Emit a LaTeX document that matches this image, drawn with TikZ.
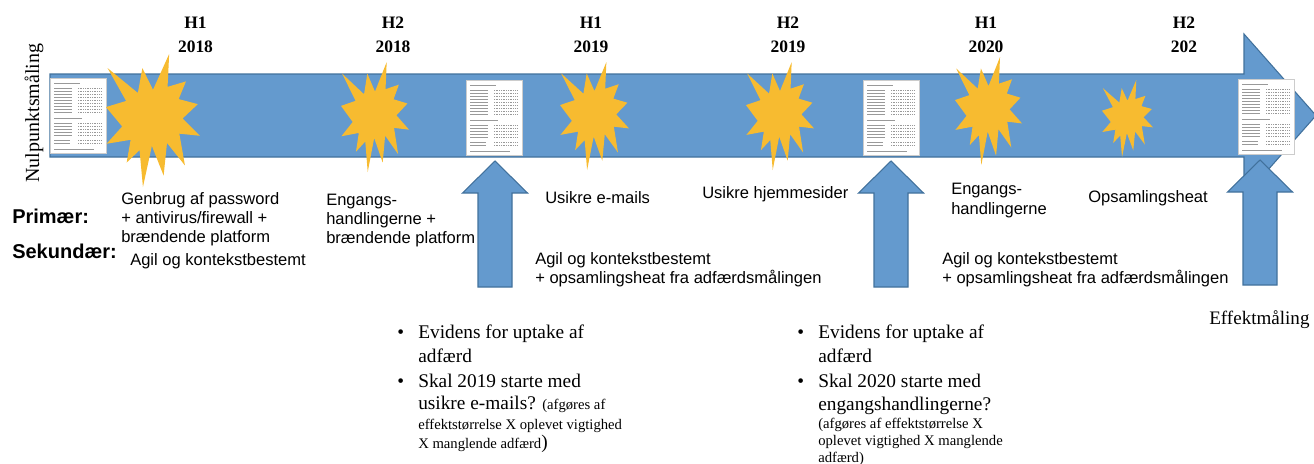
\documentclass[tikz,border=0pt]{standalone}
\usepackage{fontspec}
\setmainfont{Liberation Serif}
\setsansfont{Liberation Sans}

\definecolor{arrowblue}{RGB}{100,154,206}
\definecolor{arrowedge}{RGB}{65,113,156}
\definecolor{sunyellow}{RGB}{247,187,48}

\begin{document}
\begin{tikzpicture}[x=0.75pt, y=-0.75pt]
    \tikzstyle{block}=[fill=arrowblue, draw=arrowedge, line width=0.8pt, line join=miter]
    \tikzstyle{sun}=[fill=sunyellow]
    \tikzstyle{page}=[fill=white, draw=black!20, line width=0.4pt, inner sep=0pt, anchor=north west,
                      minimum width=42pt, minimum height=56.25pt]
    \tikzstyle{ink}=[draw=black!40, line width=0.3pt]
    \tikzstyle{lbl}=[inner sep=0pt, anchor=base west, font=\sffamily\fontsize{12.4}{14}\selectfont]
    \tikzstyle{head}=[inner sep=0pt, anchor=base west, font=\sffamily\bfseries\fontsize{15}{18}\selectfont]
    \tikzstyle{yr}=[inner sep=0pt, anchor=base, font=\bfseries\fontsize{13.1}{16}\selectfont]
    \tikzstyle{note}=[inner sep=0pt, anchor=base west, font=\fontsize{14.5}{17}\selectfont]
    \tikzstyle{fine}=[inner sep=0pt, anchor=base west, font=\fontsize{11}{13}\selectfont]

    \useasboundingbox (0,0) rectangle (1314,464);

    % the timeline arrow
    \draw[block] (50,74) -- (1244,74) -- (1244,34) -- (1316,115.5) -- (1244,197)
        -- (1244,157) -- (50,157) -- cycle;

    % questionnaire pages on the timeline
    \foreach \name/\px/\py in {p1/50/78, p2/466/80, p3/863/80, p4/1238/79} {
        \node[page] (\name) at (\px,\py) {};
        \begin{scope}[shift={(\name.north west)}]
            \draw[ink] (4,5) -- (30,5);
            \foreach \ry in {10,13,...,34} {
                \draw[ink] (4,\ry) -- (22,\ry);
                \draw[ink, densely dotted] (28,\ry) -- (52,\ry);
            }
            \draw[ink] (4,40) -- (32,40);
            \foreach \ry in {45,48,...,57} {
                \draw[ink] (4,\ry) -- (22,\ry);
                \draw[ink, densely dotted] (28,\ry) -- (52,\ry);
            }
            \foreach \ry in {62,65} {
                \draw[ink] (4,\ry) -- (20,\ry);
                \draw[ink, densely dotted] (28,\ry) -- (52,\ry);
            }
            \draw[ink] (4,71) -- (44,71);
        \end{scope}
    }

    % explosions, one per half year
    \foreach \sx/\sy/\sw/\sh in {106/54/94/133, 341/62/68/110, 560/62/69/108,
                                 746/62/68/108, 955/57/67/108, 1102/80/51/77} {
        \fill[sun, shift={(\sx,\sy)}, xscale=\sw, yscale=\sh]
            (0.500,0.269) -- (0.672,0.000) -- (0.655,0.247) -- (0.851,0.206)
            -- (0.773,0.339) -- (0.977,0.377) -- (0.815,0.485) -- (1.000,0.615)
            -- (0.780,0.599) -- (0.840,0.838) -- (0.649,0.669) -- (0.613,0.914)
            -- (0.488,0.691) -- (0.393,1.000) -- (0.357,0.723) -- (0.220,0.816)
            -- (0.262,0.645) -- (0.006,0.675) -- (0.172,0.545) -- (0.000,0.399)
            -- (0.214,0.353) -- (0.017,0.106) -- (0.339,0.293) -- (0.387,0.106)
            -- cycle;
    }

    % measurement arrows
    \foreach \ax/\at/\ab in {495/161/287, 891/161/287, 1260/160/285} {
        \draw[block] (\ax,\at) -- (\ax+32.5,\at+32) -- (\ax+17,\at+32) -- (\ax+17,\ab)
            -- (\ax-17,\ab) -- (\ax-17,\at+32) -- (\ax-32.5,\at+32) -- cycle;
    }

    % half years
    \foreach \h/\yr/\xc [count=\i] in {H1/2018/195.5, H2/2018/393, H1/2019/591,
                                       H2/2019/788, H1/2020/986, H2/202/1184} {
        \node[yr] (h\i) at (\xc,28) {\h};
        \node[yr] (y\i) at (\xc,52) {\yr};
    }

    \node[rotate=90, inner sep=0pt, font=\fontsize{15}{18}\selectfont] (nul) at (34,113) {Nulpunktsmåling};
    \node[inner sep=0pt, anchor=base west, font=\fontsize{14.3}{17}\selectfont] (eff) at (1209,324) {Effektmåling};

    % primary and secondary themes
    \node[head] (prim) at (12,223) {Primær:};
    \node[head] (sek) at (12,258) {Sekundær:};

    \node[lbl] (g1a) at (121,204) {Genbrug af password};
    \node[lbl] (g1b) at (121,223) {+ antivirus/firewall +};
    \node[lbl] (g1c) at (121,242) {brændende platform};
    \node[lbl] (s1) at (130,265) {Agil og kontekstbestemt};

    \node[lbl] (e1a) at (326,205) {Engangs-};
    \node[lbl] (e1b) at (326,224) {handlingerne +};
    \node[lbl] (e1c) at (326,243) {brændende platform};

    \node[lbl] (u1) at (545,203) {Usikre e-mails};
    \node[lbl] (u2) at (702,198) {Usikre hjemmesider};
    \node[lbl] (e2a) at (951,194) {Engangs-};
    \node[lbl] (e2b) at (951,214) {handlingerne};
    \node[lbl] (o1) at (1088,202) {Opsamlingsheat};

    \node[lbl] (a1a) at (535,264) {Agil og kontekstbestemt};
    \node[lbl] (a1b) at (535,283) {+ opsamlingsheat fra adfærdsmålingen};
    \node[lbl] (a2a) at (942,264) {Agil og kontekstbestemt};
    \node[lbl] (a2b) at (942,283) {+ opsamlingsheat fra adfærdsmålingen};

    % notes under the first measurement
    \node[note] (bu1) at (397,338) {\textbullet};
    \node[note] (bu2) at (397,387) {\textbullet};
    \node[note] (q1) at (418,338) {Evidens for uptake af};
    \node[note] (q2) at (418,362) {adfærd};
    \node[note] (q3) at (418,387) {Skal 2019 starte med};
    \node[note] (q4) at (418,409) {usikre e-mails? {\fontsize{11}{13}\selectfont(afgøres af}};
    \node[fine] (q5) at (418,429) {effektstørrelse X oplevet vigtighed};
    \node[fine] (q6) at (418,448) {X manglende adfærd{\fontsize{14.5}{17}\selectfont)}};

    % notes under the second measurement
    \node[note] (bu3) at (797,338) {\textbullet};
    \node[note] (bu4) at (797,387) {\textbullet};
    \node[note] (r1) at (818,338) {Evidens for uptake af};
    \node[note] (r2) at (818,362) {adfærd};
    \node[note] (r3) at (818,387) {Skal 2020 starte med};
    \node[note] (r4) at (818,410) {engangshandlingerne?};
    \node[fine] (r5) at (818,428) {(afgøres af effektstørrelse X};
    \node[fine] (r6) at (818,445) {oplevet vigtighed X manglende};
    \node[fine] (r7) at (818,462) {adfærd)};
\end{tikzpicture}
\end{document}
